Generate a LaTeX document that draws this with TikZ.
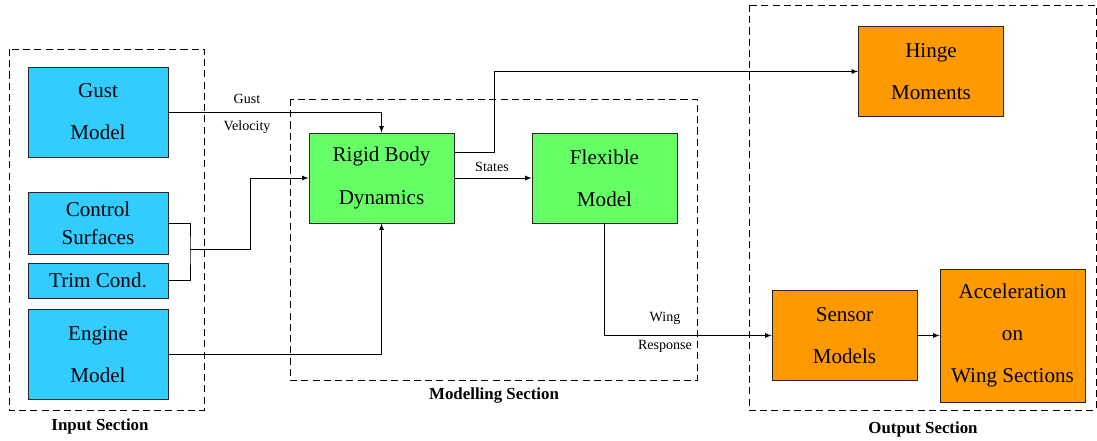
\documentclass[tikz,border=0pt]{standalone}
\usepackage{fontspec}
\setmainfont{Liberation Serif}
\usepackage{tikz}
\usepackage{xcolor}

\definecolor{incyan}{HTML}{33CCFF}
\definecolor{modgreen}{HTML}{66FF66}
\definecolor{outorange}{HTML}{FF9900}

\tikzset{
    block/.style={rectangle, draw=black!85, line width=0.6pt, inner sep=0pt, align=center,
                  minimum width=35mm, minimum height=22.5mm, font=\fontsize{15}{30}\selectfont},
    lowtext/.style={execute at begin node={\rule{0pt}{28pt}}},
    inblock/.style={block, fill=incyan},
    modblock/.style={block, lowtext, fill=modgreen, minimum width=36.25mm},
    outblock/.style={block, lowtext, fill=outorange, minimum width=36.25mm},
    section/.style={draw, line width=0.6pt, dash pattern=on 5pt off 3pt},
    lbl/.style={font=\fontsize{10}{12}\selectfont, inner sep=1pt},
    sectlbl/.style={font=\fontsize{12}{14}\selectfont\bfseries},
    conn/.style={line width=0.6pt, -latex}
}

\begin{document}
\begin{tikzpicture}[x=0.25mm, y=-0.25mm]
                \useasboundingbox (0,0) rectangle (1097,441);

                % sections
                \draw[section] (9,49) rectangle (204,410);
                \draw[section] (290,99) rectangle (697,380);
                \draw[section] (749,5) rectangle (1096,410);
                \node[sectlbl] (inSec) at (100,426) {Input Section};
                \node[sectlbl] (modSec) at (494,396) {Modelling Section};
                \node[sectlbl] (outSec) at (923,429) {Output Section};

                % input blocks
                \node[inblock, lowtext] (GM) at (98,112) {Gust\\Model};
                \node[inblock, minimum height=15.5mm, font=\fontsize{15}{20}\selectfont] (CS) at (98,223) {Control\\Surfaces};
                \node[inblock, minimum height=8.75mm] (TC) at (98,280.5) {Trim Cond.};
                \node[inblock, lowtext] (EM) at (98,354.5) {Engine\\Model};

                % modelling blocks
                \node[modblock] (RB) at (381.5,178) {Rigid Body\\Dynamics};
                \node[modblock] (FM) at (604.5,178) {Flexible\\Model};

                % output blocks
                \node[outblock] (HM) at (931,71.5) {Hinge\\Moments};
                \node[outblock] (SM) at (844.5,335.5) {Sensor\\Models};
                \node[outblock, minimum height=33.25mm] (AW) at (1012.5,335.5) {Acceleration\\on\\Wing Sections};

                \coordinate (join) at (190,249);
                \coordinate (bend) at (250,249);
                \coordinate (hturn) at (494,152);

                \draw[conn] (GM) -| (RB.north);
                \node[lbl] (gustA) at (247,99) {Gust};
                \node[lbl] (gustB) at (247,127) {Velocity};

                \draw[line width=0.6pt] (CS.east) -| (join) |- (TC.east);
                \draw[conn] (join) -- (bend) |- (RB.west);
                \draw[conn] (EM.east) -| (RB.south);

                \draw[conn] (RB.east) -- (FM.west);
                \node[lbl] (states) at (492,167) {States};
                \draw[conn] (RB.east |- hturn) -- (hturn) |- (HM.west);

                \draw[conn] (FM.south) |- (SM.west);
                \node[lbl] (wingA) at (665,318) {Wing};
                \node[lbl] (wingB) at (665,346) {Response};
                \draw[conn] (SM.east) -- (AW.west);
            \end{tikzpicture}
\end{document}
